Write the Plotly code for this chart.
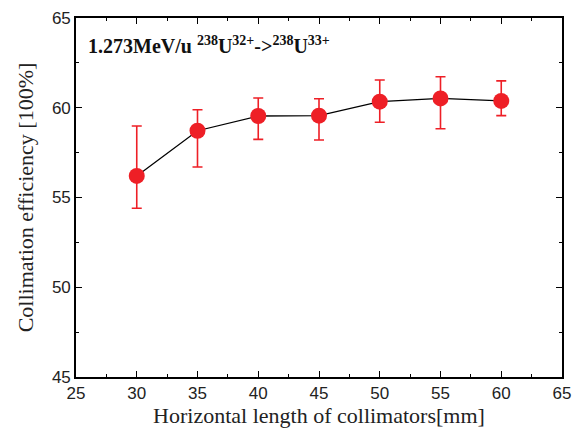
import plotly.graph_objects as go

lengths = [30, 35, 40, 45, 50, 55, 60]
efficiency = [56.2, 58.72, 59.54, 59.56, 60.34, 60.52, 60.38]
err_plus = [2.78, 1.17, 1.0, 0.94, 1.21, 1.21, 1.12]
err_minus = [1.8, 2.02, 1.3, 1.36, 1.15, 1.69, 0.82]

red = "#ee1f26"

fig = go.Figure()
fig.add_trace(go.Scatter(
    x=lengths, y=efficiency, mode="lines+markers",
    line=dict(color="black", width=1.3),
    marker=dict(color=red, size=16, line=dict(width=0)),
    error_y=dict(type="data", symmetric=False, array=err_plus, arrayminus=err_minus,
                 color=red, thickness=1.6, width=5),
    showlegend=False,
))

axis_common = dict(
    showline=True, linecolor="black", linewidth=1.6, mirror="ticks",
    ticks="inside", ticklen=6, tickwidth=1.2, tickcolor="black",
    showgrid=False, zeroline=False, automargin=False,
    tickfont=dict(family="Liberation Sans, Arial, sans-serif", size=17, color="#222"),
)

fig.update_xaxes(range=[25, 65], dtick=5, tick0=25,
                 minor=dict(ticks="inside", ticklen=3, dtick=2.5, tickcolor="black", showgrid=False),
                 title=dict(text="Horizontal length of collimators[mm]",
                            font=dict(family="Liberation Serif, Times New Roman, serif", size=22, color="#222"),
                            standoff=4),
                 **axis_common)
fig.update_yaxes(range=[45, 65], dtick=5, tick0=45,
                 minor=dict(ticks="inside", ticklen=3, dtick=2.5, tickcolor="black", showgrid=False),
                 title=dict(text="Collimation efficiency [100%]",
                            font=dict(family="Liberation Serif, Times New Roman, serif", size=22, color="#222"),
                            standoff=12),
                 **axis_common)

fig.add_annotation(
    x=0.02, y=0.925, xref="paper", yref="paper", xanchor="left", yanchor="middle",
    text="<b>1.273MeV/u <sup>238</sup>U<sup>32+</sup>-><sup>238</sup>U<sup>33+</sup></b>",
    showarrow=False,
    font=dict(family="Liberation Serif, Times New Roman, serif", size=20, color="#111"),
)

fig.update_layout(
    width=578, height=432,
    margin=dict(l=76, r=16, t=18, b=55),
    plot_bgcolor="white", paper_bgcolor="white",
)

fig.write_html("out.html", config={"displayModeBar": False},
               post_script="document.body.style.margin='0';document.body.style.overflow='hidden';")
